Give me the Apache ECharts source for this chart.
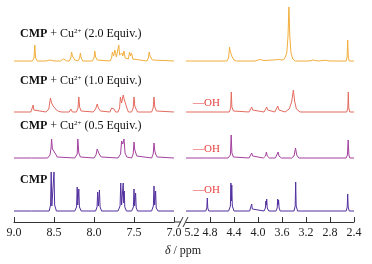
<!DOCTYPE html>
<html><head><meta charset="utf-8">
<script src="https://cdn.jsdelivr.net/npm/echarts@6/dist/echarts.min.js"></script>
<style>html,body{margin:0;padding:0;background:#fff}#c{width:372px;height:264px}</style>
</head><body><div id="c"></div>
<script>
// ---- data (ppm, intensity) ----
const spectrumNames = ['CMP + Cu2+ (2.0 Equiv.)', 'CMP + Cu2+ (1.0 Equiv.)', 'CMP + Cu2+ (0.5 Equiv.)', 'CMP'];
const leftTicks = [9.0, 8.5, 8.0, 7.5, 7.0];
const rightTicks = [5.2, 4.8, 4.4, 4.0, 3.6, 3.2, 2.8, 2.4];

const cu20 = [
  [9.0,0],[8.77,0],[8.75,3],[8.74,16],[8.73,3],[8.71,0],
  [8.60,0],[8.55,1],[8.50,0],[8.42,0],[8.38,2],[8.34,0],
  [8.31,0],[8.29,3],[8.28,9],[8.27,5],[8.26,6],[8.24,1],[8.22,0],
  [8.20,0],[8.18,3],[8.17,8],[8.16,3],[8.14,0],
  [8.02,0],[8.00,3],[7.99,10],[7.98,4],[7.96,1],[7.94,0],
  [7.80,0],[7.78,3],[7.77,9],[7.755,5],[7.74,11],[7.72,4],[7.70,6],[7.69,16],[7.68,6],[7.66,5],[7.65,8],[7.64,5],[7.625,10],[7.61,3],[7.59,1],
  [7.57,2],[7.555,9],[7.545,5],[7.53,8],[7.515,2],[7.49,0],
  [7.34,0],[7.32,3],[7.31,9],[7.30,5],[7.285,6],[7.27,1],[7.25,0],[7.0,0],
  [5.2,0],[4.52,0],[4.49,3],[4.475,14],[4.465,10],[4.455,12],[4.44,8],[4.43,4],[4.40,1],[4.36,0],
  [4.05,0],[3.97,1.5],[3.90,0.5],[3.75,1],[3.66,1.5],[3.60,1],
  [3.56,2],[3.52,8],[3.50,25],[3.485,54],[3.47,25],[3.45,8],[3.42,2],[3.38,0],
  [3.15,0],[3.08,1],[3.00,0],[2.88,0.7],[2.80,0],
  [2.53,0],[2.515,4],[2.505,21],[2.495,4],[2.48,0],[2.4,0]
];
const cu10 = [
  [9.0,0],[8.79,0],[8.768,2],[8.76,7],[8.752,2],[8.74,0],
  [8.60,0],[8.565,3],[8.545,14],[8.53,9],[8.51,6],[8.49,4],[8.47,2],[8.44,0.5],[8.40,0],
  [8.31,0],[8.29,3],[8.27,0],
  [8.22,0],[8.20,4],[8.19,15],[8.18,5],[8.16,1],[8.14,0],
  [8.01,0],[7.98,3],[7.96,8],[7.945,4],[7.92,1],[7.90,0],
  [7.80,0],[7.78,4],[7.765,2],[7.75,3],[7.73,0],
  [7.70,0],[7.68,4],[7.67,15],[7.655,9],[7.635,17],[7.62,12],[7.60,10],[7.585,3],[7.57,0],
  [7.53,0],[7.51,4],[7.50,15],[7.49,6],[7.475,3],[7.455,0],
  [7.28,0],[7.26,4],[7.25,15],[7.24,5],[7.22,1],[7.20,0],[7.0,0],
  [5.2,0],[4.48,0],[4.455,4],[4.445,20],[4.435,5],[4.41,1],[4.38,0],
  [4.15,0],[4.12,2],[4.105,5],[4.09,2],[4.06,0],
  [3.90,0],[3.87,2],[3.855,5],[3.84,2],[3.81,0],
  [3.72,0],[3.69,2],[3.67,6],[3.65,2],[3.62,0],
  [3.55,0],[3.48,3],[3.44,10],[3.41,22],[3.39,11],[3.36,3],[3.30,0],
  [2.52,0],[2.503,4],[2.495,20],[2.487,4],[2.47,0],[2.4,0]
];
const cu05 = [
  [9.0,0],[8.78,0],[8.765,1],[8.75,0],
  [8.58,0],[8.55,3],[8.537,10],[8.53,19],[8.52,9],[8.505,7],[8.495,8],[8.48,4],[8.46,1],[8.44,0],
  [8.24,0],[8.21,4],[8.202,19],[8.19,5],[8.17,1],[8.15,0],
  [8.00,0],[7.975,3],[7.96,9],[7.95,10],[7.935,4],[7.91,1],[7.89,0],
  [7.70,0],[7.668,4],[7.655,17],[7.64,14],[7.625,19],[7.612,5],[7.59,1],[7.57,0],
  [7.53,0],[7.51,4],[7.50,16],[7.49,8],[7.48,6],[7.465,2],[7.44,0],
  [7.28,0],[7.26,4],[7.25,15],[7.24,7],[7.23,4],[7.21,1],[7.19,0],[7.0,0],
  [5.2,0],[4.90,0],[4.88,1],[4.86,0],
  [4.50,0],[4.46,3],[4.447,23],[4.435,5],[4.41,1],[4.38,0],
  [4.15,0],[4.12,2],[4.105,5],[4.09,2],[4.06,0],
  [3.91,0],[3.875,2],[3.86,6],[3.845,2],[3.81,0],
  [3.71,0],[3.68,2],[3.665,6],[3.65,2],[3.61,0],
  [3.44,0],[3.40,2],[3.375,10],[3.355,3],[3.32,0],
  [2.53,0],[2.51,3],[2.497,18],[2.485,3],[2.47,0],[2.4,0]
];
const cmp = [
  [9.0,0],[8.78,0],[8.765,1],[8.75,0],
  [8.56,0],[8.543,6],[8.535,39],[8.527,5],[8.517,3],[8.508,5],[8.50,39],[8.492,6],[8.47,0],
  [8.24,0],[8.218,4],[8.21,24],[8.203,6],[8.197,6],[8.19,22],[8.182,4],[8.16,0],
  [7.98,0],[7.962,4],[7.954,19],[7.946,5],[7.940,5],[7.932,21],[7.924,4],[7.905,0],
  [7.70,0],[7.674,5],[7.666,28],[7.655,6],[7.645,6],[7.635,28],[7.628,8],[7.622,20],[7.615,4],[7.595,0],
  [7.53,0],[7.508,4],[7.50,22],[7.492,5],[7.487,5],[7.48,18],[7.472,3],[7.455,0],
  [7.28,0],[7.258,5],[7.25,25],[7.242,6],[7.237,5],[7.23,20],[7.222,3],[7.2,0],[7.0,0],
  [5.2,0],[4.87,0],[4.853,3],[4.845,13],[4.837,3],[4.82,0],
  [4.49,0],[4.46,5],[4.452,28],[4.444,10],[4.437,26],[4.428,5],[4.40,0],
  [4.14,0],[4.115,2],[4.105,7],[4.095,2],[4.07,0],
  [3.90,0],[3.877,3],[3.868,10],[3.862,6],[3.855,12],[3.846,3],[3.82,0],
  [3.70,0],[3.68,3],[3.672,12],[3.665,6],[3.657,11],[3.648,3],[3.63,0],
  [3.45,0],[3.43,1],[3.40,0],[3.38,5],[3.372,29],[3.364,5],[3.34,0],
  [2.53,0],[2.513,4],[2.505,17],[2.497,4],[2.48,0],[2.4,0]
];

const spectra = [cu20, cu10, cu05, cmp];
const colors = ['#f2ad3c', '#e36b5e', '#a3409f', '#52309e'];
const baselines = [61, 112, 158, 211];   // pixel rows of each trace's baseline
const labelRows = [34, 81, 126, 180];
const ohRows = [null, 103, 149, 190];

const chart = echarts.init(document.getElementById('c'), null, {renderer: 'canvas'});
const PLOT_BOTTOM = 222;
const serif = 'Liberation Serif';

const grids = [
  {left: 14, width: 160, top: 0, height: PLOT_BOTTOM},
  {left: 186, width: 168, top: 0, height: PLOT_BOTTOM}
];
const axisCommon = {
  type: 'value', inverse: true, splitLine: {show: false},
  axisLine: {show: true, onZero: false, lineStyle: {color: '#333', width: 1}},
  axisTick: {show: true, inside: true, length: 5, lineStyle: {color: '#333', width: 1}},
  axisLabel: {fontFamily: serif, fontSize: 12, color: '#222', margin: 5, formatter: v => v.toFixed(1)}
};
const xAxes = [
  Object.assign({}, axisCommon, {gridIndex: 0, min: 7.0, max: 9.0, interval: 0.5}),
  Object.assign({}, axisCommon, {gridIndex: 1, min: 2.4, max: 5.2, interval: 0.4,
    axisTick: Object.assign({}, axisCommon.axisTick, {customValues: rightTicks.slice(1)}),
    axisLabel: Object.assign({}, axisCommon.axisLabel, {
      customValues: rightTicks,
      formatter: v => Math.abs(v - 5.2) < 1e-6 ? '{s|' + v.toFixed(1) + '}' : v.toFixed(1),
      rich: {s: {fontFamily: serif, fontSize: 12, color: '#222', padding: [0, 0, 0, 12]}}
    })
  })
];
const yAxes = [];
const series = [];
[0, 1].forEach(g => {
  spectra.forEach((s, i) => {
    const b = baselines[i];
    yAxes.push({type: 'value', gridIndex: g, show: false, min: -(PLOT_BOTTOM - b), max: b});
    const part = s.filter(p => g === 0 ? p[0] >= 6 : p[0] <= 6);
    series.push({
      type: 'line', xAxisIndex: g, yAxisIndex: yAxes.length - 1, data: part,
      symbol: 'none', lineStyle: {color: colors[i], width: 1}, silent: true, clip: false
    });
  });
});

const labelTexts = [
  '{b|CMP} + Cu{sup|2+} (2.0 Equiv.)',
  '{b|CMP} + Cu{sup|2+} (1.0 Equiv.)',
  '{b|CMP} + Cu{sup|2+} (0.5 Equiv.)',
  '{b|CMP}'
];
const rich = {
  b: {fontFamily: serif, fontWeight: 'bold', fontSize: 12, fill: '#111'},
  sup: {fontFamily: serif, fontSize: 7, fill: '#111', verticalAlign: 'top', padding: [0, 0, 5, 0]}
};
const graphic = [];
labelTexts.forEach((t, i) => {
  graphic.push({type: 'text', x: 20, y: labelRows[i], style: {text: t, rich: rich,
    font: '12px "Liberation Serif"', fill: '#111', verticalAlign: 'middle'}});
});
ohRows.forEach(r => {
  if (r === null) return;
  graphic.push({type: 'text', x: 193, y: r, style: {text: '\u2014OH',
    font: '11px "Liberation Serif"', fill: '#e8423f', verticalAlign: 'middle'}});
});
// axis break decoration
graphic.push({type: 'line', shape: {x1: 174, y1: PLOT_BOTTOM, x2: 181, y2: PLOT_BOTTOM}, style: {stroke: '#333', lineWidth: 1}});
graphic.push({type: 'line', shape: {x1: 178, y1: 227, x2: 183, y2: 217}, style: {stroke: '#333', lineWidth: 1}});
graphic.push({type: 'line', shape: {x1: 183, y1: 227, x2: 188, y2: 217}, style: {stroke: '#333', lineWidth: 1}});
graphic.push({type: 'text', x: 183, y: 251, style: {text: '{i|δ} / ppm',
  rich: {i: {fontFamily: serif, fontStyle: 'italic', fontSize: 12, fill: '#222'}},
  font: '12px "Liberation Serif"', fill: '#222', align: 'center', verticalAlign: 'middle'}});

chart.setOption({
  animation: false,
  grid: grids,
  xAxis: xAxes,
  yAxis: yAxes,
  series: series,
  graphic: graphic
});
</script></body></html>
